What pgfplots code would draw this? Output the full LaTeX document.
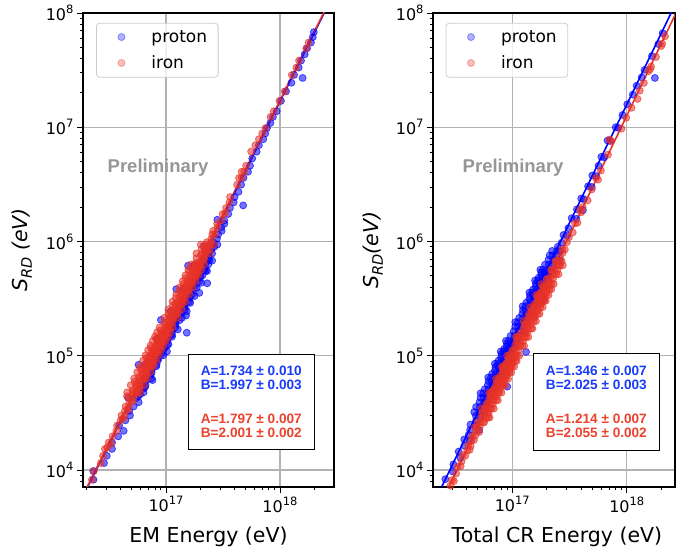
\documentclass[border=0pt]{standalone}
\usepackage{fontspec}
\setmainfont{DejaVu Sans}
\newfontfamily\arialfont{Liberation Sans}
\usepackage{pgfplots}
\pgfplotsset{compat=1.18}
\usepackage{pgfplotstable}

\definecolor{ptblue}{RGB}{0,0,255}
\definecolor{ptred}{RGB}{232,50,38}
\definecolor{txtblue}{RGB}{25,60,250}
\definecolor{txtred}{RGB}{236,66,46}
\definecolor{gridc}{RGB}{178,178,178}
\definecolor{prelim}{RGB}{150,150,150}

\newcommand{\tenp}[1]{10\raisebox{7pt}{\fontsize{11.5}{12}\selectfont #1}}
\newcommand{\srd}{\textit{S}\raisebox{-4pt}{\fontsize{14.5}{15}\selectfont\textit{RD}}}

% left panel: EM energy
\pgfplotstableread{
x y
2.31e16 8.23e3
2.30e16 9.79e3
2.86e16 1.15e4
3.02e16 1.33e4
3.36e16 1.53e4
3.36e16 1.74e4
3.81e16 1.97e4
4.25e16 2.20e4
3.88e16 2.45e4
4.40e16 2.72e4
4.83e16 3.00e4
4.75e16 3.29e4
5.20e16 3.60e4
5.76e16 3.92e4
5.45e16 4.25e4
4.65e16 4.28e4
5.71e16 4.42e4
6.36e16 4.78e4
5.93e16 4.60e4
5.94e16 4.96e4
6.33e16 5.14e4
6.55e16 5.33e4
6.61e16 5.52e4
6.26e16 5.72e4
6.49e16 5.92e4
6.78e16 6.12e4
7.62e16 6.12e4
7.44e16 6.33e4
6.82e16 6.53e4
7.31e16 6.75e4
7.36e16 6.96e4
7.48e16 7.18e4
7.19e16 7.41e4
7.50e16 7.63e4
7.62e16 7.86e4
8.21e16 8.09e4
8.26e16 8.33e4
5.74e16 8.33e4
6.58e16 8.40e4
7.67e16 8.57e4
7.85e16 8.81e4
8.47e16 9.06e4
8.36e16 9.31e4
8.63e16 9.56e4
8.36e16 9.82e4
9.47e16 1.01e5
9.05e16 1.03e5
8.77e16 1.06e5
8.64e16 1.09e5
1.02e17 1.09e5
9.32e16 1.12e5
9.27e16 1.14e5
9.71e16 1.17e5
9.24e16 1.20e5
1.02e17 1.23e5
1.05e17 1.26e5
9.48e16 1.29e5
9.77e16 1.32e5
1.03e17 1.35e5
1.03e17 1.38e5
8.37e16 1.39e5
1.03e17 1.41e5
1.00e17 1.44e5
1.13e17 1.47e5
1.09e17 1.50e5
1.13e17 1.53e5
1.07e17 1.57e5
1.52e17 1.59e5
1.12e17 1.60e5
1.11e17 1.63e5
1.14e17 1.67e5
1.10e17 1.70e5
1.27e17 1.70e5
1.21e17 1.77e5
1.21e17 1.87e5
1.14e17 1.89e5
1.21e17 1.96e5
1.23e17 2.06e5
9.02e16 2.06e5
1.32e17 2.05e5
1.38e17 2.15e5
1.24e17 2.15e5
1.27e17 2.25e5
1.50e17 2.25e5
1.37e17 2.35e5
1.37e17 2.45e5
1.52e17 2.45e5
1.31e17 2.48e5
1.10e17 2.46e5
1.47e17 2.55e5
1.46e17 2.66e5
1.38e17 2.63e5
1.45e17 2.76e5
1.46e17 2.87e5
1.63e17 2.90e5
1.60e17 2.98e5
1.48e17 2.98e5
1.49e17 3.10e5
1.62e17 3.21e5
1.61e17 3.33e5
1.78e17 3.33e5
1.53e17 3.30e5
1.70e17 3.45e5
1.64e17 3.57e5
1.96e17 3.55e5
1.70e17 3.70e5
1.65e17 3.83e5
1.23e17 3.83e5
1.41e17 3.85e5
1.86e17 3.95e5
1.68e17 3.95e5
1.80e17 4.08e5
1.76e17 4.22e5
2.30e17 4.31e5
1.76e17 4.35e5
2.03e17 4.35e5
1.95e17 4.49e5
1.85e17 4.63e5
1.94e17 4.77e5
2.01e17 4.91e5
1.85e17 4.88e5
2.09e17 5.06e5
1.93e17 5.06e5
1.98e17 5.21e5
2.01e17 5.36e5
1.98e17 5.51e5
2.29e17 5.51e5
2.23e17 5.55e5
2.17e17 5.66e5
2.13e17 5.82e5
2.19e17 5.98e5
2.11e17 6.14e5
1.56e17 6.14e5
1.77e17 6.20e5
2.35e17 6.30e5
2.12e17 6.30e5
2.22e17 6.46e5
2.18e17 6.80e5
2.54e17 6.80e5
2.40e17 6.85e5
2.36e17 7.14e5
2.37e17 7.50e5
2.54e17 7.86e5
2.37e17 7.86e5
2.42e17 8.23e5
2.52e17 8.61e5
2.65e17 8.99e5
2.14e17 9.10e5
2.82e17 9.39e5
2.62e17 9.79e5
2.80e17 1.06e6
2.86e17 1.15e6
3.08e17 1.24e6
3.05e17 1.33e6
3.25e17 1.43e6
3.24e17 1.53e6
2.82e17 1.55e6
3.52e17 1.74e6
3.64e17 1.97e6
4.75e17 2.07e6
3.92e17 2.20e6
3.99e17 2.45e6
4.32e17 2.72e6
4.56e17 3.14e6
4.78e17 3.60e6
5.24e17 4.08e6
5.46e17 4.60e6
5.71e17 5.33e6
6.24e17 6.12e6
6.53e17 6.96e6
7.14e17 7.86e6
7.42e17 8.81e6
7.68e17 9.82e6
8.24e17 1.09e7
8.67e17 1.23e7
9.36e17 1.38e7
1.02e18 1.70e7
1.13e18 2.06e7
1.26e18 2.45e7
1.33e18 2.87e7
1.58e18 2.70e7
1.46e18 3.33e7
1.53e18 3.83e7
1.65e18 4.35e7
1.73e18 4.91e7
1.87e18 5.51e7
1.94e18 6.14e7
1.98e18 6.80e7
}\emproton

\pgfplotstableread{
x y
2.24e16 8.23e3
2.33e16 9.79e3
2.68e16 1.15e4
2.80e16 1.33e4
2.91e16 1.53e4
3.06e16 1.58e4
3.14e16 1.74e4
3.30e16 1.70e4
3.40e16 1.97e4
3.67e16 2.20e4
3.72e16 2.45e4
4.00e16 2.72e4
4.16e16 2.80e4
4.07e16 3.00e4
4.33e16 2.95e4
4.36e16 3.29e4
4.62e16 3.35e4
4.42e16 3.60e4
4.69e16 3.55e4
4.80e16 3.92e4
5.09e16 3.98e4
4.75e16 4.25e4
5.15e16 4.20e4
4.54e16 4.42e4
5.15e16 4.60e4
5.56e16 4.65e4
5.09e16 4.78e4
5.46e16 4.78e4
4.56e16 4.78e4
5.94e16 4.78e4
5.08e16 4.96e4
5.51e16 4.90e4
5.83e16 5.14e4
5.49e16 5.33e4
5.88e16 5.40e4
5.47e16 5.52e4
5.87e16 5.52e4
4.90e16 5.52e4
6.38e16 5.52e4
5.51e16 5.72e4
5.86e16 5.65e4
5.31e16 5.92e4
5.94e16 6.12e4
6.42e16 6.20e4
5.86e16 6.33e4
6.28e16 6.33e4
5.25e16 6.33e4
6.83e16 6.33e4
5.77e16 6.53e4
6.39e16 6.45e4
6.68e16 6.75e4
6.21e16 6.96e4
6.72e16 7.05e4
6.24e16 7.18e4
6.70e16 7.18e4
5.59e16 7.18e4
7.28e16 7.18e4
6.60e16 7.41e4
6.20e16 7.30e4
5.96e16 7.63e4
7.07e16 7.86e4
6.53e16 7.95e4
6.62e16 8.09e4
7.11e16 8.09e4
5.93e16 8.09e4
7.73e16 8.09e4
7.07e16 8.33e4
7.56e16 8.25e4
7.60e16 8.57e4
6.84e16 8.81e4
7.34e16 8.90e4
7.01e16 9.06e4
7.52e16 9.06e4
6.28e16 9.06e4
8.18e16 9.06e4
7.25e16 9.31e4
7.84e16 9.20e4
6.75e16 9.56e4
7.07e16 9.82e4
7.68e16 9.90e4
7.39e16 1.01e5
7.93e16 1.01e5
6.62e16 1.01e5
8.62e16 1.01e5
7.57e16 1.03e5
8.11e16 1.04e5
8.37e16 1.06e5
8.00e16 1.09e5
7.52e16 1.08e5
7.78e16 1.12e5
8.34e16 1.12e5
6.97e16 1.12e5
9.07e16 1.12e5
8.77e16 1.14e5
8.04e16 1.15e5
7.39e16 1.17e5
8.57e16 1.20e5
7.98e16 1.19e5
8.16e16 1.23e5
8.76e16 1.23e5
7.31e16 1.23e5
9.52e16 1.23e5
8.51e16 1.26e5
9.03e16 1.27e5
9.22e16 1.29e5
8.45e16 1.32e5
9.06e16 1.31e5
8.54e16 1.35e5
9.17e16 1.35e5
7.65e16 1.35e5
9.97e16 1.35e5
9.00e16 1.38e5
9.72e16 1.39e5
8.19e16 1.41e5
8.65e16 1.44e5
9.38e16 1.43e5
8.93e16 1.47e5
9.58e16 1.47e5
8.00e16 1.47e5
1.04e17 1.47e5
9.21e16 1.50e5
9.87e16 1.52e5
1.01e17 1.53e5
9.70e16 1.57e5
9.12e16 1.56e5
9.31e16 1.60e5
9.99e16 1.60e5
8.34e16 1.60e5
1.09e17 1.60e5
1.02e17 1.63e5
9.51e16 1.64e5
8.91e16 1.67e5
1.00e17 1.70e5
1.07e17 1.71e5
9.79e16 1.77e5
1.05e17 1.77e5
8.77e16 1.77e5
1.14e17 1.77e5
9.98e16 1.87e5
1.07e17 1.88e5
1.04e17 1.86e5
1.14e17 1.96e5
9.68e16 1.96e5
1.13e17 2.06e5
1.06e17 2.04e5
1.10e17 2.08e5
1.08e17 2.15e5
1.16e17 2.15e5
9.68e16 2.15e5
1.26e17 2.15e5
1.13e17 2.25e5
1.22e17 2.27e5
1.08e17 2.23e5
1.05e17 2.35e5
1.26e17 2.35e5
1.21e17 2.45e5
1.14e17 2.47e5
1.26e17 2.43e5
1.18e17 2.55e5
1.26e17 2.55e5
1.05e17 2.55e5
1.37e17 2.55e5
1.21e17 2.66e5
1.29e17 2.68e5
1.15e17 2.76e5
1.35e17 2.76e5
1.30e17 2.87e5
1.22e17 2.85e5
1.39e17 2.89e5
1.27e17 2.98e5
1.36e17 2.98e5
1.14e17 2.98e5
1.48e17 2.98e5
1.32e17 3.10e5
1.40e17 3.08e5
1.22e17 3.21e5
1.46e17 3.21e5
1.41e17 3.33e5
1.33e17 3.35e5
1.37e17 3.45e5
1.47e17 3.45e5
1.23e17 3.45e5
1.60e17 3.45e5
1.49e17 3.57e5
1.41e17 3.60e5
1.33e17 3.70e5
1.58e17 3.70e5
1.50e17 3.83e5
1.59e17 3.80e5
1.46e17 3.95e5
1.57e17 3.95e5
1.31e17 3.95e5
1.71e17 3.95e5
1.49e17 4.08e5
1.58e17 4.12e5
1.42e17 4.22e5
1.67e17 4.22e5
1.58e17 4.35e5
1.68e17 4.38e5
1.56e17 4.49e5
1.67e17 4.49e5
1.40e17 4.49e5
1.82e17 4.49e5
1.55e17 4.63e5
1.67e17 4.60e5
1.49e17 4.77e5
1.78e17 4.77e5
1.75e17 4.91e5
1.65e17 4.95e5
1.66e17 5.06e5
1.78e17 5.06e5
1.48e17 5.06e5
1.93e17 5.06e5
1.75e17 5.21e5
1.86e17 5.18e5
1.60e17 5.36e5
1.90e17 5.36e5
1.71e17 5.51e5
1.84e17 5.55e5
1.75e17 5.66e5
1.88e17 5.66e5
1.57e17 5.66e5
2.04e17 5.66e5
1.83e17 5.82e5
1.92e17 5.78e5
1.69e17 5.98e5
1.99e17 5.98e5
1.84e17 6.14e5
1.96e17 6.18e5
1.85e17 6.30e5
1.98e17 6.30e5
1.66e17 6.30e5
2.16e17 6.30e5
1.95e17 6.46e5
1.83e17 6.50e5
2.02e17 6.80e5
2.14e17 6.85e5
1.85e17 7.14e5
2.17e17 7.14e5
2.02e17 7.50e5
2.14e17 7.45e5
2.06e17 7.86e5
2.21e17 7.86e5
1.85e17 7.86e5
2.41e17 7.86e5
2.18e17 8.23e5
2.31e17 8.30e5
2.05e17 8.61e5
2.41e17 8.61e5
2.23e17 8.99e5
2.32e17 9.05e5
2.26e17 9.39e5
2.42e17 9.39e5
2.02e17 9.39e5
2.63e17 9.39e5
2.47e17 9.79e5
2.28e17 9.85e5
2.50e17 1.06e6
2.55e17 1.15e6
2.70e17 1.16e6
2.59e17 1.24e6
2.83e17 1.33e6
2.81e17 1.43e6
3.06e17 1.53e6
3.14e17 1.74e6
3.30e17 1.76e6
3.37e17 1.97e6
3.60e17 2.20e6
3.65e17 2.45e6
4.21e17 3.14e6
4.37e17 3.60e6
4.60e17 3.62e6
4.61e17 4.08e6
4.85e17 4.10e6
5.04e17 4.60e6
5.58e17 6.12e6
6.08e17 6.96e6
6.53e17 7.86e6
6.98e17 8.81e6
7.45e17 9.82e6
8.25e17 1.23e7
8.82e17 1.38e7
9.90e17 1.70e7
1.10e18 2.06e7
1.27e18 2.87e7
1.39e18 3.33e7
1.47e18 3.83e7
1.70e18 4.91e7
1.78e18 5.51e7
}\emiron

% right panel: total CR energy
\pgfplotstableread{
x y
2.52e16 7.04e3
2.60e16 8.31e3
3.02e16 9.69e3
3.06e16 1.12e4
3.52e16 1.28e4
3.40e16 1.45e4
3.82e16 1.63e4
4.26e16 1.82e4
3.80e16 1.85e4
4.16e16 2.03e4
5.12e16 2.24e4
4.28e16 2.24e4
4.75e16 2.47e4
4.31e16 2.50e4
4.83e16 2.71e4
5.28e16 2.96e4
4.80e16 2.98e4
5.15e16 3.22e4
4.65e16 3.22e4
5.70e16 3.20e4
5.20e16 3.56e4
4.83e16 3.56e4
5.62e16 3.58e4
5.67e16 3.92e4
5.17e16 3.92e4
6.16e16 3.90e4
5.64e16 4.29e4
5.29e16 4.29e4
6.10e16 4.31e4
6.12e16 4.69e4
5.58e16 4.69e4
5.28e16 4.69e4
6.60e16 4.65e4
6.19e16 5.10e4
5.75e16 5.10e4
6.69e16 5.13e4
9.04e16 5.37e4
6.70e16 5.53e4
6.11e16 5.53e4
7.35e16 5.50e4
6.62e16 5.98e4
6.21e16 5.98e4
7.16e16 6.00e4
7.14e16 6.45e4
6.51e16 6.45e4
6.16e16 6.45e4
7.77e16 6.42e4
7.18e16 6.94e4
6.67e16 6.94e4
7.76e16 6.97e4
7.73e16 7.44e4
7.05e16 7.44e4
8.55e16 7.40e4
7.60e16 7.97e4
7.13e16 7.97e4
8.22e16 8.00e4
8.16e16 8.51e4
7.44e16 8.51e4
7.04e16 8.51e4
8.80e16 8.48e4
8.17e16 9.07e4
7.59e16 9.07e4
8.91e16 9.10e4
8.76e16 9.65e4
7.99e16 9.65e4
9.86e16 9.60e4
8.58e16 1.03e5
8.05e16 1.03e5
9.19e16 1.03e5
1.32e17 1.08e5
9.18e16 1.09e5
8.37e16 1.09e5
7.92e16 1.09e5
9.90e16 1.08e5
9.16e16 1.15e5
8.51e16 1.15e5
9.90e16 1.16e5
9.79e16 1.21e5
8.93e16 1.21e5
1.06e17 1.20e5
9.56e16 1.28e5
8.97e16 1.28e5
1.03e17 1.29e5
1.02e17 1.35e5
9.30e16 1.35e5
8.80e16 1.35e5
1.10e17 1.34e5
1.04e17 1.49e5
9.66e16 1.49e5
1.13e17 1.50e5
1.13e17 1.64e5
1.03e17 1.64e5
1.27e17 1.63e5
1.13e17 1.80e5
1.06e17 1.80e5
1.22e17 1.81e5
1.22e17 1.97e5
1.12e17 1.97e5
1.06e17 1.97e5
1.33e17 1.95e5
1.24e17 2.14e5
1.15e17 2.14e5
1.34e17 2.16e5
1.34e17 2.32e5
1.22e17 2.32e5
1.56e17 2.30e5
1.32e17 2.51e5
1.24e17 2.51e5
1.43e17 2.53e5
1.43e17 2.71e5
1.30e17 2.71e5
1.23e17 2.71e5
1.54e17 2.69e5
1.44e17 2.92e5
1.33e17 2.92e5
1.57e17 2.94e5
1.55e17 3.13e5
1.41e17 3.13e5
1.88e17 3.10e5
1.52e17 3.35e5
1.43e17 3.35e5
1.64e17 3.37e5
1.63e17 3.57e5
1.49e17 3.57e5
1.41e17 3.57e5
1.79e17 3.55e5
1.63e17 3.80e5
1.52e17 3.80e5
1.77e17 3.83e5
1.75e17 4.05e5
1.60e17 4.05e5
1.87e17 4.02e5
1.72e17 4.30e5
1.61e17 4.30e5
1.84e17 4.33e5
1.84e17 4.56e5
1.67e17 4.56e5
1.58e17 4.56e5
2.05e17 4.52e5
1.83e17 4.82e5
1.70e17 4.82e5
1.98e17 4.85e5
1.96e17 5.10e5
1.79e17 5.10e5
2.09e17 5.08e5
1.91e17 5.38e5
1.79e17 5.38e5
2.07e17 5.40e5
2.04e17 5.67e5
1.86e17 5.67e5
1.76e17 5.67e5
2.24e17 5.64e5
2.08e17 6.27e5
1.93e17 6.27e5
2.25e17 6.30e5
2.27e17 6.91e5
2.07e17 6.91e5
2.60e17 6.85e5
2.25e17 7.57e5
2.12e17 7.57e5
2.44e17 7.60e5
2.45e17 8.27e5
2.23e17 8.27e5
2.64e17 8.22e5
2.50e17 9.00e5
2.70e17 9.76e5
2.80e17 1.14e6
3.02e17 1.13e6
3.09e17 1.31e6
3.30e17 1.60e6
3.63e17 1.58e6
3.67e17 1.91e6
4.14e17 1.88e6
4.00e17 2.38e6
4.20e17 2.35e6
4.59e17 3.04e6
4.95e17 3.00e6
5.00e17 3.78e6
5.40e17 3.74e6
5.67e17 4.60e6
6.00e17 5.51e6
6.36e17 5.45e6
7.14e17 7.58e6
6.79e17 7.65e6
8.00e17 1.00e7
8.40e17 9.90e6
9.18e17 1.28e7
1.01e18 1.59e7
1.13e18 1.93e7
1.22e18 2.31e7
1.35e18 2.73e7
1.76e18 2.70e7
1.43e18 3.18e7
1.66e18 4.20e7
1.89e18 5.35e7
2.06e18 6.66e7
}\crproton

\pgfplotstableread{
x y
2.80e16 7.06e3
2.88e16 7.30e3
2.97e16 8.15e3
3.09e16 8.00e3
3.23e16 9.32e3
3.33e16 1.06e4
3.54e16 1.08e4
3.60e16 1.19e4
3.88e16 1.33e4
3.69e16 1.35e4
4.04e16 1.48e4
4.24e16 1.50e4
4.12e16 1.64e4
4.33e16 1.62e4
4.40e16 1.81e4
4.62e16 1.83e4
4.46e16 1.98e4
4.74e16 2.00e4
4.85e16 2.17e4
5.14e16 2.15e4
4.90e16 2.36e4
5.20e16 2.38e4
4.70e16 2.36e4
5.25e16 2.61e4
5.57e16 2.63e4
5.67e16 2.61e4
4.99e16 2.61e4
5.34e16 2.88e4
5.61e16 2.90e4
5.94e16 2.85e4
6.16e16 2.88e4
6.33e16 2.88e4
5.69e16 3.15e4
6.04e16 3.18e4
6.21e16 3.15e4
5.46e16 3.15e4
6.00e16 3.45e4
5.76e16 3.48e4
6.36e16 3.42e4
6.60e16 3.45e4
6.90e16 3.45e4
5.40e16 3.45e4
6.38e16 3.76e4
6.06e16 3.80e4
6.75e16 3.76e4
5.94e16 3.76e4
6.50e16 4.08e4
6.83e16 4.05e4
6.24e16 4.12e4
7.22e16 4.08e4
7.48e16 4.08e4
6.95e16 4.41e4
6.62e16 4.45e4
7.29e16 4.41e4
6.41e16 4.41e4
7.00e16 4.76e4
7.49e16 4.72e4
6.65e16 4.80e4
7.70e16 4.76e4
8.05e16 4.76e4
6.51e16 4.76e4
6.30e16 4.76e4
7.40e16 5.12e4
7.03e16 5.15e4
7.83e16 5.12e4
6.89e16 5.12e4
7.50e16 5.49e4
7.88e16 5.45e4
7.20e16 5.55e4
8.40e16 5.49e4
8.63e16 5.49e4
7.98e16 5.88e4
7.60e16 5.92e4
8.37e16 5.88e4
7.36e16 5.88e4
8.08e16 6.28e4
8.48e16 6.25e4
7.60e16 6.32e4
8.80e16 6.28e4
9.20e16 6.28e4
7.20e16 6.28e4
8.25e16 6.70e4
8.58e16 6.65e4
8.91e16 6.70e4
7.84e16 6.70e4
8.25e16 7.13e4
8.67e16 7.15e4
9.10e16 7.10e4
9.44e16 7.13e4
9.78e16 7.13e4
8.75e16 7.57e4
8.40e16 7.62e4
9.45e16 7.57e4
8.31e16 7.57e4
9.27e16 8.03e4
8.82e16 8.08e4
9.72e16 8.00e4
9.90e16 8.03e4
1.04e17 8.03e4
8.37e16 8.03e4
8.10e16 8.03e4
9.34e16 8.50e4
8.88e16 8.55e4
9.99e16 8.50e4
8.79e16 8.50e4
9.50e16 8.99e4
9.98e16 8.95e4
9.22e16 9.05e4
1.06e17 8.99e4
1.09e17 8.99e4
1.00e17 9.49e4
9.56e16 9.52e4
1.05e17 9.49e4
9.26e16 9.49e4
1.00e17 1.00e5
1.06e17 1.01e5
9.50e16 1.02e5
1.10e17 1.00e5
1.15e17 1.00e5
9.00e16 1.00e5
1.07e17 1.11e5
1.02e17 1.12e5
1.13e17 1.11e5
9.98e16 1.11e5
1.10e17 1.22e5
1.16e17 1.21e5
1.06e17 1.23e5
1.22e17 1.22e5
1.27e17 1.22e5
1.18e17 1.34e5
1.13e17 1.35e5
1.24e17 1.34e5
1.09e17 1.34e5
1.21e17 1.46e5
1.28e17 1.45e5
1.14e17 1.47e5
1.32e17 1.46e5
1.38e17 1.46e5
1.12e17 1.46e5
1.08e17 1.46e5
1.25e17 1.59e5
1.30e17 1.58e5
1.35e17 1.59e5
1.19e17 1.59e5
1.26e17 1.73e5
1.33e17 1.74e5
1.38e17 1.72e5
1.46e17 1.73e5
1.50e17 1.73e5
1.35e17 1.87e5
1.30e17 1.88e5
1.46e17 1.87e5
1.28e17 1.87e5
1.44e17 2.01e5
1.37e17 2.03e5
1.54e17 2.01e5
1.61e17 2.01e5
1.26e17 2.01e5
1.46e17 2.17e5
1.54e17 2.15e5
1.57e17 2.17e5
1.38e17 2.17e5
1.46e17 2.33e5
1.53e17 2.35e5
1.67e17 2.33e5
1.73e17 2.33e5
1.40e17 2.33e5
1.55e17 2.49e5
1.63e17 2.47e5
1.67e17 2.49e5
1.47e17 2.49e5
1.54e17 2.66e5
1.63e17 2.68e5
1.76e17 2.66e5
1.84e17 2.66e5
1.44e17 2.66e5
1.70e17 2.84e5
1.62e17 2.86e5
1.78e17 2.84e5
1.57e17 2.84e5
1.70e17 3.02e5
1.80e17 3.00e5
1.90e17 3.02e5
1.96e17 3.02e5
1.70e17 3.21e5
1.79e17 3.23e5
1.89e17 3.21e5
1.66e17 3.21e5
1.82e17 3.40e5
1.89e17 3.38e5
1.98e17 3.40e5
2.07e17 3.40e5
1.69e17 3.40e5
1.62e17 3.40e5
1.81e17 3.60e5
1.91e17 3.62e5
2.00e17 3.60e5
1.76e17 3.60e5
1.90e17 3.81e5
2.01e17 3.79e5
2.11e17 3.81e5
2.19e17 3.81e5
1.89e17 4.02e5
1.99e17 4.04e5
2.11e17 4.02e5
1.85e17 4.02e5
2.02e17 4.24e5
2.10e17 4.20e5
2.20e17 4.24e5
2.30e17 4.24e5
1.80e17 4.24e5
2.06e17 4.69e5
2.16e17 4.72e5
2.27e17 4.69e5
2.00e17 4.69e5
2.20e17 5.17e5
2.31e17 5.15e5
2.42e17 5.17e5
2.53e17 5.17e5
2.23e17 5.67e5
2.35e17 5.70e5
2.48e17 5.67e5
2.19e17 5.67e5
2.42e17 6.19e5
2.54e17 6.15e5
2.62e17 6.19e5
2.76e17 6.19e5
2.45e17 6.74e5
2.58e17 6.78e5
2.70e17 6.74e5
2.38e17 6.74e5
2.60e17 7.32e5
2.75e17 7.92e5
2.74e17 8.54e5
2.88e17 8.50e5
3.00e17 9.86e5
3.12e17 1.09e6
3.37e17 1.20e6
3.53e17 1.44e6
3.71e17 1.46e6
4.00e17 1.80e6
3.92e17 1.90e6
4.12e17 2.00e6
4.55e17 2.29e6
4.95e17 2.86e6
5.61e17 3.48e6
5.39e17 3.60e6
5.94e17 4.18e6
6.86e17 5.76e6
7.05e17 7.80e6
7.30e17 7.60e6
9.00e17 9.72e6
9.90e17 1.21e7
1.10e18 1.48e7
1.24e18 1.77e7
1.30e18 2.09e7
1.41e18 2.44e7
1.55e18 3.10e7
1.60e18 3.22e7
1.63e18 3.40e7
1.80e18 4.12e7
2.00e18 5.13e7
2.04e18 5.40e7
2.16e18 6.25e7
}\criron

\pgfplotsset{
  every axis/.append style={
    scale only axis, height=474pt,
    ymin=7.1e3, ymax=1e8,
    axis line style={line width=1.1pt, black},
    tick pos=left, tick align=outside,
    major tick length=6pt, minor tick length=3.5pt,
    every tick/.style={black, line width=0.9pt},
    grid=major,
    major grid style={line width=1.1pt, draw=gridc},
    xtick={1e17,1e18},
    xticklabels={\tenp{17},\tenp{18}},
    minor xtick={2e16,3e16,4e16,5e16,6e16,7e16,8e16,9e16,2e17,3e17,4e17,5e17,6e17,7e17,8e17,9e17,2e18,3e18},
    ytick={1e4,1e5,1e6,1e7,1e8},
    yticklabels={\tenp{4},\tenp{5},\tenp{6},\tenp{7},\tenp{8}},
    minor ytick={8e3,9e3,2e4,3e4,4e4,5e4,6e4,7e4,8e4,9e4,2e5,3e5,4e5,5e5,6e5,7e5,8e5,9e5,2e6,3e6,4e6,5e6,6e6,7e6,8e6,9e6,2e7,3e7,4e7,5e7,6e7,7e7,8e7,9e7},
    tick label style={font=\fontsize{16}{18}\selectfont},
    label style={font=\fontsize{20.5}{24}\selectfont},
    legend style={
      at={(0.052,0.979)}, anchor=north west,
      draw=black!20, line width=0.8pt, rounded corners=3pt,
      fill=white, fill opacity=0.8, text opacity=1,
      font=\fontsize{17}{19}\selectfont,
      inner xsep=9pt, inner ysep=5pt, row sep=8pt,
      cells={anchor=west},
    },
  },
  scatpts/.style={
    draw=none, mark=*, mark size=3.5pt,
    mark options={draw=#1, fill=#1, fill opacity=0.55, draw opacity=0.65, line width=0.8pt},
    legend image code/.code={\path[##1,mark repeat=2,mark phase=2,
      /tikz/every mark/.append style={fill opacity=0.3,draw opacity=0.4}]
      plot coordinates {(0pt,0pt) (16pt,0pt) (44pt,0pt)};},
  },
  fitline/.style={draw=#1, line width=1.6pt, forget plot},
}

\begin{document}
\begin{tikzpicture}
\path[use as bounding box] (0pt,0pt) rectangle (676pt,552pt);

\begin{loglogaxis}[
  at={(83pt,65pt)}, anchor=south west,
  width=251pt,
  xmin=1.87e16, xmax=2.98e18,
  xlabel={EM Energy (eV)},
  ylabel={\srd\ \textit{(eV)}},
  xlabel style={at={(axis description cs:0.5,-0.105)}, anchor=center},
  ylabel style={at={(axis description cs:-0.243,0.5)}, anchor=center},
]
\addplot[scatpts=ptblue] table {\emproton};
\addlegendentry{proton}
\addplot[scatpts=ptred] table {\emiron};
\addlegendentry{iron}
\addplot[fitline=ptblue] coordinates {(1.8e16,5.44e3) (3e18,1.512e8)};
\addplot[fitline=ptred] coordinates {(1.8e16,5.57e3) (3e18,1.548e8)};
\node[text=prelim, font=\arialfont\bfseries\fontsize{18.5}{20}\selectfont]
  at (rel axis cs:0.299,0.673) {Preliminary};
\node[draw=black, line width=0.8pt, fill=white, minimum width=126pt, minimum height=95pt,
  align=center, inner sep=0pt, font=\arialfont\bfseries\fontsize{13.6}{14.5}\selectfont]
  at (rel axis cs:0.6705,0.180)
  {\textcolor{txtblue}{A=1.734 ± 0.010}\\\textcolor{txtblue}{B=1.997 ± 0.003}\\[18.8pt]
   \textcolor{txtred}{A=1.797 ± 0.007}\\\textcolor{txtred}{B=2.001 ± 0.002}};
\end{loglogaxis}

\begin{loglogaxis}[
  at={(433pt,65pt)}, anchor=south west,
  width=242pt,
  xmin=2.03e16, xmax=2.64e18,
  xlabel={Total CR Energy (eV)},
  ylabel={\srd\textit{(eV)}},
  xlabel style={at={(axis description cs:0.512,-0.105)}, anchor=center},
  ylabel style={at={(axis description cs:-0.248,0.5)}, anchor=center},
]
\addplot[scatpts=ptblue] table {\crproton};
\addlegendentry{proton}
\addplot[scatpts=ptred] table {\criron};
\addlegendentry{iron}
\addplot[fitline=ptblue] coordinates {(2.24e16,6.08e3) (2.82e18,1.35e8)};
\addplot[fitline=ptred] coordinates {(2.80e16,7.14e3) (3.16e18,1.40e8)};
\node[text=prelim, font=\arialfont\bfseries\fontsize{18.5}{20}\selectfont]
  at (rel axis cs:0.331,0.673) {Preliminary};
\node[draw=black, line width=0.8pt, fill=white, minimum width=126pt, minimum height=97pt,
  align=center, inner sep=0pt, font=\arialfont\bfseries\fontsize{13.6}{14.5}\selectfont]
  at (rel axis cs:0.675,0.180)
  {\textcolor{txtblue}{A=1.346 ± 0.007}\\\textcolor{txtblue}{B=2.025 ± 0.003}\\[18.8pt]
   \textcolor{txtred}{A=1.214 ± 0.007}\\\textcolor{txtred}{B=2.055 ± 0.002}};
\end{loglogaxis}
\end{tikzpicture}
\end{document}
